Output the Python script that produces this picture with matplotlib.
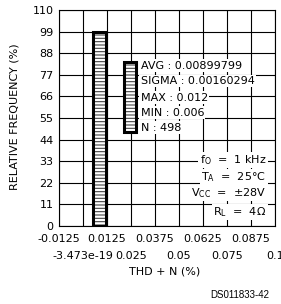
import matplotlib
matplotlib.use("Agg")
import matplotlib.pyplot as plt
import matplotlib.patches as mpatches
import numpy as np

plt.rcParams['font.family'] = ['DejaVu Sans']
plt.rcParams['hatch.linewidth'] = 0.8
plt.rcParams['axes.unicode_minus'] = False

# data
bar_centers = [0.0087]
bar_widths = [0.007]
bar_heights = [99]
x_major = [-0.0125, 0.0125, 0.0375, 0.0625, 0.0875]
x_major_labels = ['-0.0125', '0.0125', '0.0375', '0.0625', '0.0875']
x_minor = [0.0, 0.025, 0.05, 0.075, 0.1]
x_minor_labels = ['-3.473e-19', '0.025', '0.05', '0.075', '0.1']
y_ticks = [0, 11, 22, 33, 44, 55, 66, 77, 88, 99, 110]
stats = ['AVG : 0.00899799', 'SIGMA : 0.00160294', 'MAX : 0.012', 'MIN : 0.006', 'N : 498']
conds = ['f$_\\mathregular{O}$  =  1 kHz', 'T$_\\mathregular{A}$  =  25\u00b0C',
         'V$_\\mathregular{CC}$  =  \u00b128V', 'R$_\\mathregular{L}$  =  4\u03a9']

FS = 8

fig = plt.figure(figsize=(2.81, 3.04), dpi=100)
ax = fig.add_axes([59/281, 78/304, 216/281, 216/304])
ax.set_xlim(-0.0125, 0.1)
ax.set_ylim(0, 110)

ax.set_xticks(x_major)
ax.set_xticklabels(x_major_labels)
ax.set_xticks(x_minor, minor=True)
ax.set_xticklabels(x_minor_labels, minor=True)
ax.set_yticks(y_ticks)
ax.tick_params(axis='both', which='both', length=0, labelsize=FS)
ax.tick_params(axis='x', which='major', pad=6)
ax.tick_params(axis='x', which='minor', pad=18)
ax.tick_params(axis='y', pad=4)
ax.grid(True, which='both', color='black', linewidth=0.8)
ax.set_axisbelow(True)
for s in ax.spines.values():
    s.set_linewidth(0.8)

ax.bar(bar_centers, bar_heights, width=bar_widths, color='white', hatch='-----',
       edgecolor='#444444', linewidth=0, zorder=3)
ax.bar(bar_centers, bar_heights, width=bar_widths, fill=False,
       edgecolor='black', linewidth=2.2, zorder=4)

# legend patch
lp = mpatches.Rectangle((0.30, 0.435), 0.055, 0.325, transform=ax.transAxes,
                        facecolor='white', hatch='-----', edgecolor='#444444',
                        linewidth=0, zorder=5)
ax.add_patch(lp)
lp2 = mpatches.Rectangle((0.30, 0.435), 0.055, 0.325, transform=ax.transAxes,
                         fill=False, edgecolor='black', linewidth=2.2, zorder=6)
ax.add_patch(lp2)

ys = [0.742, 0.672, 0.594, 0.524, 0.455]
for t, y in zip(stats, ys):
    ax.text(0.378, y, t, transform=ax.transAxes, fontsize=FS, va='center', ha='left',
            zorder=7, bbox=dict(facecolor='white', edgecolor='none', pad=1.0))

cy = [0.305, 0.227, 0.153, 0.065]
for t, y in zip(conds, cy):
    ax.text(0.96, y, t, transform=ax.transAxes, fontsize=FS, va='center', ha='right',
            zorder=7, bbox=dict(facecolor='white', edgecolor='none', pad=1.0))

fig.text(15/281, 1 - 117/304, 'RELATIVE FREQUENCY (%)', rotation=90, fontsize=FS,
         ha='center', va='center')
fig.text(165/281, 1 - 271/304, 'THD + N (%)', fontsize=FS, ha='center', va='center')
fig.text(269/281, 1 - 295/304, 'DS011833-42', fontsize=7, ha='right', va='center',
         family=['Liberation Sans'])

fig.savefig('out.png', dpi=100)
